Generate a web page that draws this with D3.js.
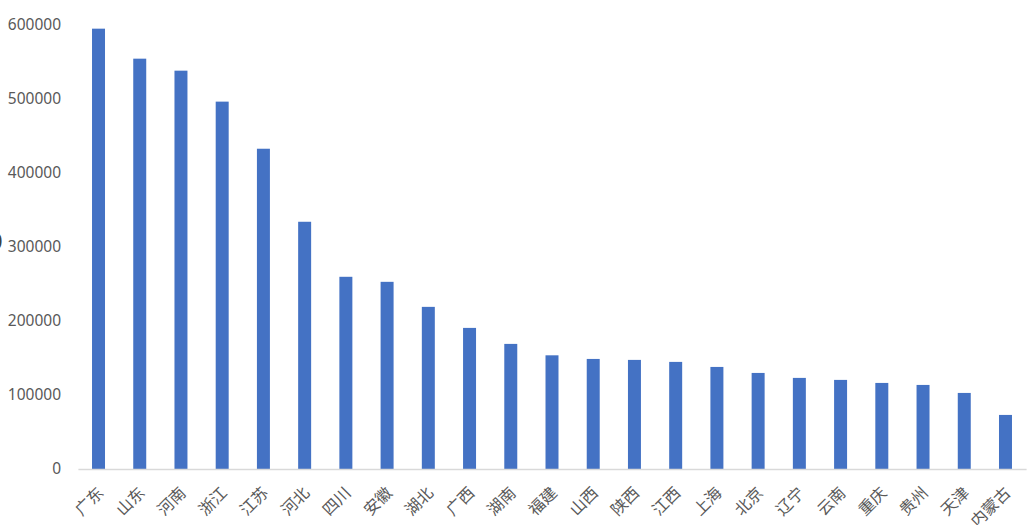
<!DOCTYPE html>
<html>
<head>
<meta charset="utf-8">
<script src="https://cdn.jsdelivr.net/npm/d3@7"></script>
<style>
  body { margin: 0; background: #fff; }
  svg { display: block; }
</style>
</head>
<body>
<script>
var provinces = ["广东", "山东", "河南", "浙江", "江苏", "河北", "四川", "安徽", "湖北", "广西", "湖南", "福建",
	"山西", "陕西", "江西", "上海", "北京", "辽宁", "云南", "重庆", "贵州", "天津", "内蒙古"];

var values = [594500, 554000, 537800, 496000, 432400, 333800, 259500, 252700, 218900, 190500, 168900, 153500,
	148600, 147300, 144600, 137800, 129700, 123000, 120300, 116200, 113500, 102700, 73000];

var yTicks = [0, 100000, 200000, 300000, 400000, 500000, 600000];

var width = 1029,
	height = 525;

var x = d3.scaleBand()
	.domain(provinces)
	.range([77.9, 1026.1])
	.paddingInner(0.685)
	.paddingOuter(0.3425);

var y = d3.scaleLinear()
	.domain([0, 600000])
	.range([469, 24.6]);

var svg = d3.select("body").append("svg")
	.attr("width", width)
	.attr("height", height);

// cut-off axis title on the far left
svg.append("text")
	.attr("x", -10)
	.attr("y", 249)
	.style("font-family", "'Noto Sans', sans-serif")
	.style("font-size", "22px")
	.style("fill", "#404040")
	.text("0");

// y axis labels, no line
var yAxis = svg.append("g")
	.attr("transform", "translate(61,0)")
	.call(d3.axisLeft(y).tickValues(yTicks).tickSize(0).tickPadding(0).tickFormat(d3.format("d")));
yAxis.select(".domain").remove();
yAxis.selectAll("text")
	.style("font-family", "'Noto Sans', sans-serif")
	.style("font-size", "15.5px")
	.style("fill", "#595959");

svg.selectAll("rect.bar")
	.data(values)
	.enter().append("rect")
	.attr("class", "bar")
	.attr("x", function(d, i) { return x(provinces[i]); })
	.attr("width", x.bandwidth())
	.attr("y", function(d) { return y(d); })
	.attr("height", function(d) { return y(0) - y(d); })
	.style("fill", "#4472c4");

// x axis
var xAxis = svg.append("g")
	.attr("transform", "translate(0," + y(0) + ")")
	.call(d3.axisBottom(x).tickSize(0).tickPadding(0));
xAxis.select(".domain")
	.attr("stroke", "#d9d9d9")
	.attr("stroke-width", 1.5);
xAxis.selectAll("text")
	.attr("text-anchor", "end")
	.attr("dy", "0.35em")
	.attr("y", 0)
	.attr("transform", "translate(2,21) rotate(-45)")
	.style("font-family", "'Noto Sans CJK SC', sans-serif")
	.style("font-size", "16px")
	.style("fill", "#595959");
</script>
</body>
</html>
